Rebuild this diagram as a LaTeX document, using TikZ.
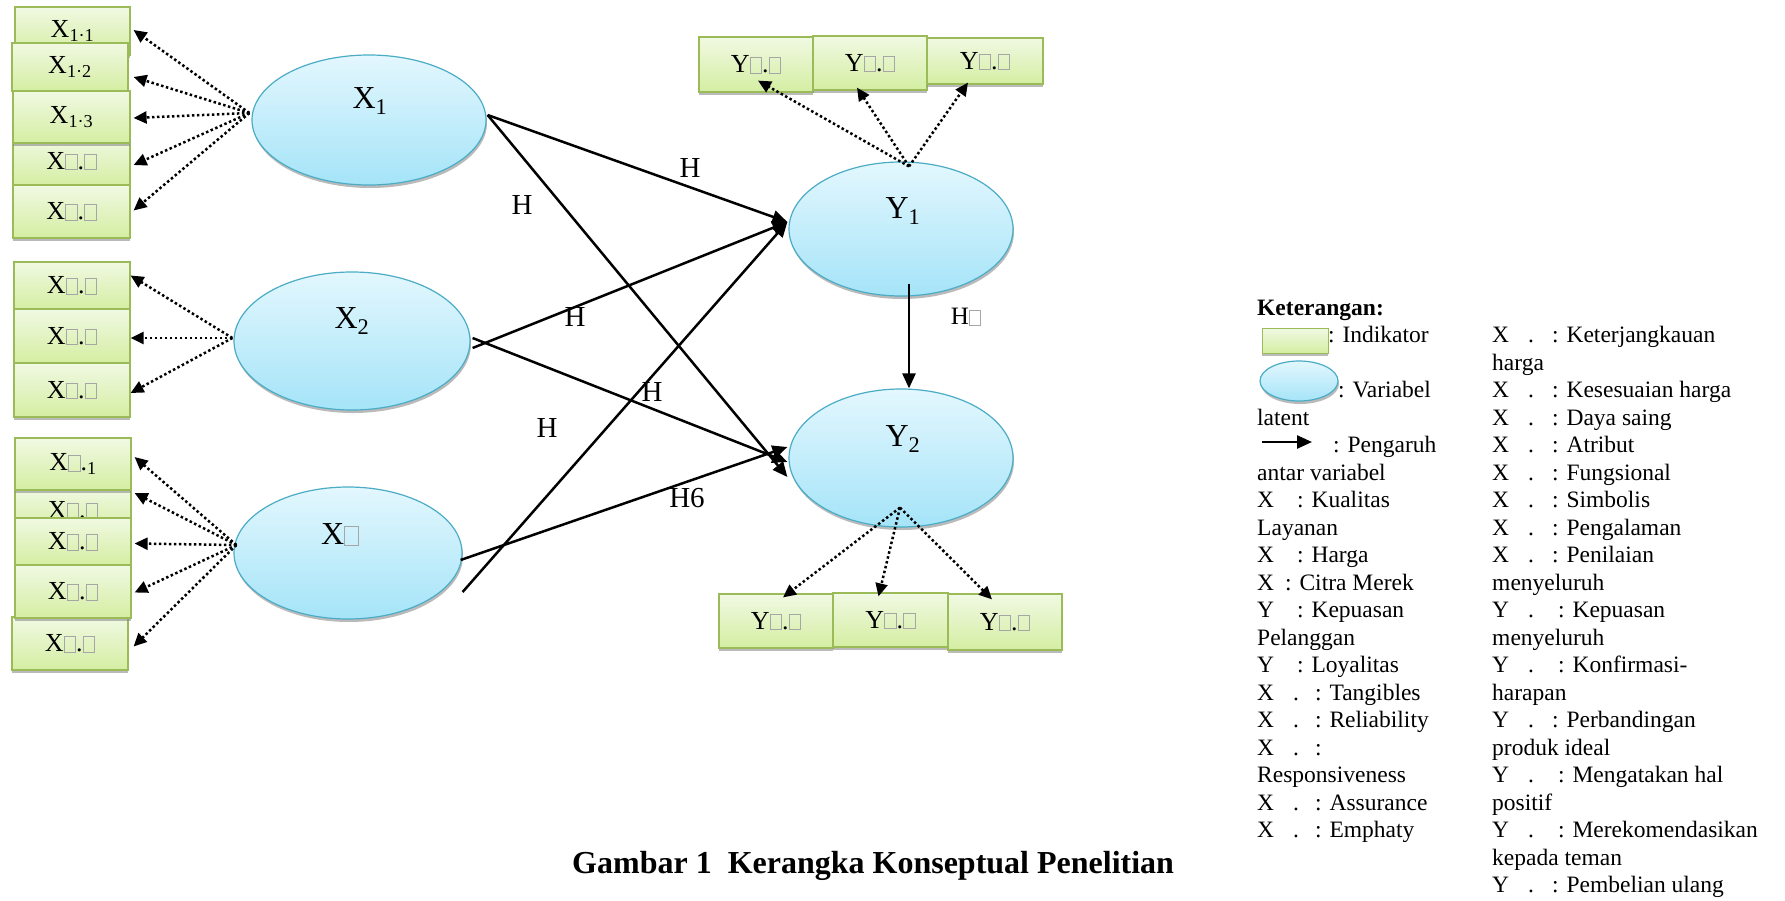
\documentclass[tikz,border=0pt]{standalone}
\usepackage{fontspec}
\setmainfont{Liberation Serif}
\usetikzlibrary{shapes.geometric,arrows.meta,calc,shadows}
\definecolor{boxtop}{HTML}{F1F9E3}
\definecolor{boxbot}{HTML}{D4EEA2}
\definecolor{boxdraw}{HTML}{9BBB59}
\definecolor{elltop}{HTML}{E3F7FE}
\definecolor{ellbot}{HTML}{A5E4F8}
\definecolor{elldraw}{HTML}{4BACC6}
\newcommand\nd{{\color{black!35}\fboxsep=0pt\fboxrule=1pt\fbox{\rule{0pt}{0.55em}\hspace{0.4em}}}}
\newcommand\lgl[4]{\node[lgt] (#1) at (#2,{315+27.5*#3}) {#4};}
\begin{document}
\begin{tikzpicture}[x=1pt,y=-1pt,
  ind/.style={rectangle, draw=boxdraw, line width=1.2pt, top color=boxtop, bottom color=boxbot, inner sep=0pt,
    font=\fontsize{26}{26}\selectfont,
    drop shadow={shadow xshift=0pt, shadow yshift=-3pt, fill=black!45, opacity=0.6}},
  lat/.style={ellipse, draw=elldraw, line width=1.2pt, top color=elltop, bottom color=ellbot, inner sep=0pt,
    drop shadow={shadow xshift=1pt, shadow yshift=-3pt, fill=black!45, opacity=0.6}},
  latlab/.style={inner sep=0pt, font=\fontsize{32}{32}\selectfont},
  hlab/.style={inner sep=0pt, font=\fontsize{29}{29}\selectfont},
  lgt/.style={anchor=base west, inner sep=0pt, font=\fontsize{23.5}{23.5}\selectfont},
  dotarr/.style={line width=2.5pt, dash pattern=on 2.5pt off 2.5pt, -{Triangle[length=13pt,width=12pt]}},
  solarr/.style={line width=2.5pt, -{Triangle[length=15pt,width=13pt]}}
]
\path[fill=white] (0,0) rectangle (1785,900);
\useasboundingbox (0,0) rectangle (1785,900);

% ---------- indicator boxes X1
\node[ind, minimum width=115pt, minimum height=48pt] (b11) at (72.5,31) {X\textsubscript{1·1}};
\node[ind, minimum width=116pt, minimum height=48pt] (b12) at (70,67) {X\textsubscript{1·2}};
\node[ind, minimum width=117pt, minimum height=50pt] (b14) at (71.5,161) {X\nd.\nd};
\node[ind, minimum width=117pt, minimum height=52pt] (b13) at (71.5,117) {X\textsubscript{1·3}};
\node[ind, minimum width=117pt, minimum height=53pt] (b15) at (71.5,211.5) {X\nd.\nd};
% ---------- X2
\node[ind, minimum width=116pt, minimum height=47pt] (b21) at (72,285.5) {X\nd.\nd};
\node[ind, minimum width=116pt, minimum height=54pt] (b22) at (72,336) {X\nd.\nd};
\node[ind, minimum width=116pt, minimum height=54pt] (b23) at (72,390) {X\nd.\nd};
% ---------- X3
\node[ind, minimum width=116pt, minimum height=44pt] (b32) at (73,510) {X\nd.\nd};
\node[ind, minimum width=116pt, minimum height=52pt] (b31) at (73,464) {X\nd.\textsubscript{1}};
\node[ind, minimum width=116pt, minimum height=53pt] (b35) at (70,643.5) {X\nd.\nd};
\node[ind, minimum width=116pt, minimum height=47pt] (b33) at (73,541.5) {X\nd.\nd};
\node[ind, minimum width=116pt, minimum height=53pt] (b34) at (73,591.5) {X\nd.\nd};
% ---------- Y1 indicators
\node[ind, minimum width=114pt, minimum height=55pt] (yt1) at (756,64.5) {Y\nd.\nd};
\node[ind, minimum width=114pt, minimum height=54pt] (yt2) at (870,63) {Y\nd.\nd};
\node[ind, minimum width=116pt, minimum height=46pt] (yt3) at (985,61) {Y\nd.\nd};
% ---------- Y2 indicators
\node[ind, minimum width=114pt, minimum height=54pt] (yb1) at (776,621) {Y\nd.\nd};
\node[ind, minimum width=115pt, minimum height=54pt] (yb2) at (890.5,620) {Y\nd.\nd};
\node[ind, minimum width=114pt, minimum height=56pt] (yb3) at (1005,622) {Y\nd.\nd};

% ---------- latent variables
\node[lat, minimum width=234pt, minimum height=130pt] (X1) at (369,120) {};
\node[lat, minimum width=236pt, minimum height=138pt] (X2) at (352,341) {};
\node[lat, minimum width=228pt, minimum height=132pt] (X3) at (348,553) {};
\node[lat, minimum width=224pt, minimum height=134pt] (Y1) at (901,229) {};
\node[lat, minimum width=224pt, minimum height=138pt] (Y2) at (901,458) {};
\node[latlab] (tX1) at (370,101) {X\textsubscript{1}};
\node[latlab] (tX2) at (352,321) {X\textsubscript{2}};
\node[latlab] (tX3) at (340,535) {X\nd};
\node[latlab] (tY1) at (903,211) {Y\textsubscript{1}};
\node[latlab] (tY2) at (903,439) {Y\textsubscript{2}};

% ---------- dotted indicator arrows
\coordinate (hX1) at ($(X1.west)+(-2,-7)$);
\coordinate (hX2) at ($(X2.west)+(-1,-3)$);
\coordinate (hX3) at ($(X3.west)+(3,-8)$);
\coordinate (hY1) at ($(Y1.north)+(8,5)$);
\coordinate (hY2) at ($(Y2.south)+(-1,-20)$);
\draw[dotarr] (hX1) -- ($(b11.east)+(3,-1)$);
\draw[dotarr] (hX1) -- ($(b12.east)+(5,10)$);
\draw[dotarr] (hX1) -- ($(b13.east)+(3,1)$);
\draw[dotarr] (hX1) -- ($(b14.east)+(3,4)$);
\draw[dotarr] (hX1) -- ($(b15.east)+(3,-1)$);
\draw[dotarr] (hX2) -- ($(b21.east)+(0,-10)$);
\draw[dotarr] (hX2) -- ($(b22.east)+(0,2)$);
\draw[dotarr] (hX2) -- ($(b23.east)+(0,3)$);
\draw[dotarr] (hX3) -- ($(b31.east)+(3,-7)$);
\draw[dotarr] (hX3) -- ($(b32.east)+(3,-17)$);
\draw[dotarr] (hX3) -- ($(b33.east)+(3,2)$);
\draw[dotarr] (hX3) -- ($(b34.east)+(3,1)$);
\draw[dotarr] (hX3) -- ($(b35.east)+(5,3)$);
\draw[dotarr] (hY1) -- ($(yt1.south)+(2,-12)$);
\draw[dotarr] (hY1) -- ($(yt2.south)+(-13,-3)$);
\draw[dotarr] (hY1) -- ($(yt3.south)+(-17,-2)$);
\draw[dotarr] (hY2) -- ($(yb1.north)+(7,4)$);
\draw[dotarr] (hY2) -- ($(yb2.north)+(-12,4)$);
\draw[dotarr] (hY2) -- ($(yb3.north)+(-13,6)$);

% ---------- structural paths
\coordinate (sX1) at ($(X1.east)+(1,-5)$);
\coordinate (sX2a) at ($(X2.east)+(2,7)$);
\coordinate (sX2b) at ($(X2.east)+(2,-3)$);
\coordinate (sX3a) at ($(X3.east)+(-2,7)$);
\coordinate (sX3b) at ($(X3.east)+(0,39)$);
\coordinate (inY1) at ($(Y1.west)+(-1,-7)$);
\coordinate (inY2a) at ($(Y2.west)+(-1,-11)$);
\coordinate (inY2b) at ($(Y2.west)+(-1,4)$);
\coordinate (inY2c) at ($(Y2.west)+(-1,19)$);
\coordinate (sY1) at ($(Y1.south)+(8,-13)$);
\coordinate (nY2) at ($(Y2.north)+(8,0)$);
\draw[solarr] (sX1) -- (inY1);
\draw[solarr] (sX1) -- (inY2c);
\draw[solarr] (sX2a) -- (inY1);
\draw[solarr] (sX2b) -- (inY2b);
\draw[solarr] (sX3b) -- (inY1);
\draw[solarr] (sX3a) -- (inY2a);
\draw[solarr] (sY1) -- (nY2);

\node[hlab] (h1) at (690,168) {H};
\node[hlab] (h2) at (522,205) {H};
\node[hlab] (h3) at (575,317) {H};
\node[hlab] (h4) at (652,392) {H};
\node[hlab] (h5) at (547,428) {H};
\node[hlab] (h6) at (687,498) {H6};
\node[hlab, font=\fontsize{25}{25}\selectfont] (h7) at (966,317) {H\nd};

% ---------- legend
\node[lgt, font=\fontsize{23.5}{23.5}\selectfont\bfseries] (lg0) at (1257,315) {Keterangan:};
\node[ind, minimum width=66pt, minimum height=25pt, line width=1pt] (lgbox) at (1295,340.5) {};
\node[lat, minimum width=78pt, minimum height=40pt] (lgell) at (1299,381) {};
\coordinate (lga1) at (1262,442);
\coordinate (lga2) at (1312,442);
\draw[solarr] (lga1) -- (lga2);
\lgl{l1}{1328}{1}{: Indikator}
\lgl{l3}{1338}{3}{: Variabel}
\lgl{l4}{1257}{4}{latent}
\lgl{l5}{1333}{5}{: Pengaruh}
\lgl{l6}{1257}{6}{antar variabel}
\lgl{l7}{1257}{7}{\makebox[40pt][l]{X}: Kualitas}
\lgl{l8}{1257}{8}{Layanan}
\lgl{l9}{1257}{9}{\makebox[40pt][l]{X}: Harga}
\lgl{l10}{1257}{10}{\makebox[28pt][l]{X}: Citra Merek}
\lgl{l11}{1257}{11}{\makebox[40pt][l]{Y}: Kepuasan}
\lgl{l12}{1257}{12}{Pelanggan}
\lgl{l13}{1257}{13}{\makebox[40pt][l]{Y}: Loyalitas}
\lgl{l14}{1257}{14}{\makebox[36pt][l]{X}\makebox[22pt][l]{.}: Tangibles}
\lgl{l15}{1257}{15}{\makebox[36pt][l]{X}\makebox[22pt][l]{.}: Reliability}
\lgl{l16}{1257}{16}{\makebox[36pt][l]{X}\makebox[22pt][l]{.}:}
\lgl{l17}{1257}{17}{Responsiveness}
\lgl{l18}{1257}{18}{\makebox[36pt][l]{X}\makebox[22pt][l]{.}: Assurance}
\lgl{l19}{1257}{19}{\makebox[36pt][l]{X}\makebox[22pt][l]{.}: Emphaty}

\lgl{r1}{1492}{1}{\makebox[36pt][l]{X}\makebox[24pt][l]{.}: Keterjangkauan}
\lgl{r2}{1492}{2}{harga}
\lgl{r3}{1492}{3}{\makebox[36pt][l]{X}\makebox[24pt][l]{.}: Kesesuaian harga}
\lgl{r4}{1492}{4}{\makebox[36pt][l]{X}\makebox[24pt][l]{.}: Daya saing}
\lgl{r5}{1492}{5}{\makebox[36pt][l]{X}\makebox[24pt][l]{.}: Atribut}
\lgl{r6}{1492}{6}{\makebox[36pt][l]{X}\makebox[24pt][l]{.}: Fungsional}
\lgl{r7}{1492}{7}{\makebox[36pt][l]{X}\makebox[24pt][l]{.}: Simbolis}
\lgl{r8}{1492}{8}{\makebox[36pt][l]{X}\makebox[24pt][l]{.}: Pengalaman}
\lgl{r9}{1492}{9}{\makebox[36pt][l]{X}\makebox[24pt][l]{.}: Penilaian}
\lgl{r10}{1492}{10}{menyeluruh}
\lgl{r11}{1492}{11}{\makebox[36pt][l]{Y}\makebox[30pt][l]{.}: Kepuasan}
\lgl{r12}{1492}{12}{menyeluruh}
\lgl{r13}{1492}{13}{\makebox[36pt][l]{Y}\makebox[30pt][l]{.}: Konfirmasi-}
\lgl{r14}{1492}{14}{harapan}
\lgl{r15}{1492}{15}{\makebox[36pt][l]{Y}\makebox[24pt][l]{.}: Perbandingan}
\lgl{r16}{1492}{16}{produk ideal}
\lgl{r17}{1492}{17}{\makebox[36pt][l]{Y}\makebox[30pt][l]{.}: Mengatakan hal}
\lgl{r18}{1492}{18}{positif}
\lgl{r19}{1492}{19}{\makebox[36pt][l]{Y}\makebox[30pt][l]{.}: Merekomendasikan}
\lgl{r20}{1492}{20}{kepada teman}
\lgl{r21}{1492}{21}{\makebox[36pt][l]{Y}\makebox[24pt][l]{.}: Pembelian ulang}

% ---------- caption
\node[anchor=base west, inner sep=0pt, font=\fontsize{32}{32}\selectfont\bfseries] (cap) at (572,873) {Gambar 1\ \ Kerangka Konseptual Penelitian};
\end{tikzpicture}
\end{document}
